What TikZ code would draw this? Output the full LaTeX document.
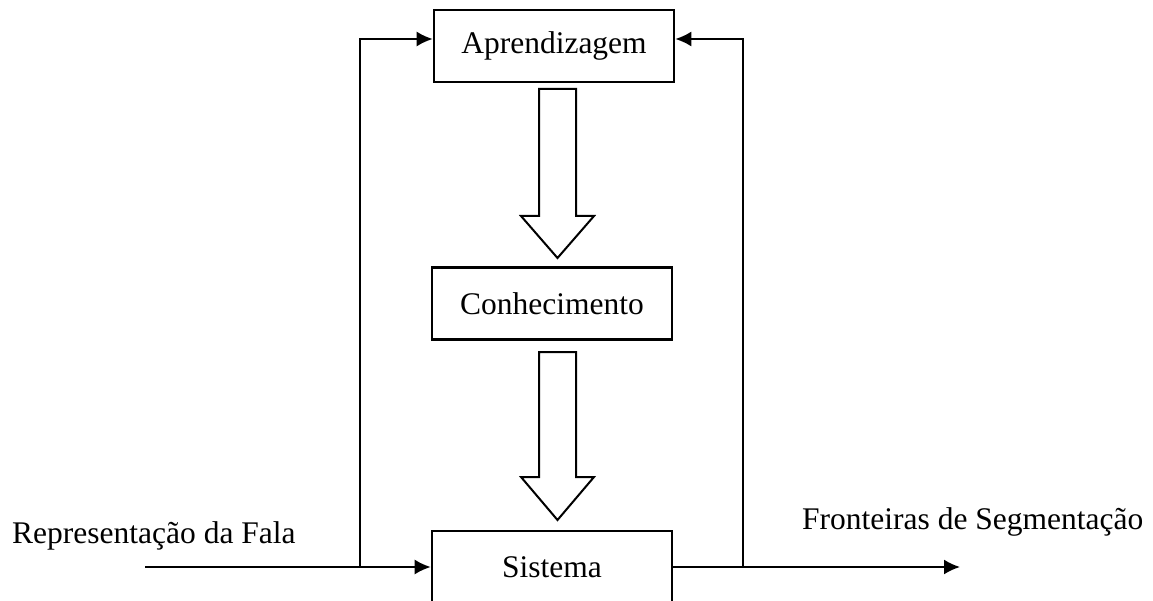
\documentclass[tikz,border=0pt]{standalone}
\usepackage{fontspec}
\setmainfont{Liberation Serif}
\usetikzlibrary{arrows.meta}
\tikzset{
  caixa/.style={draw, line width=2.6pt, minimum width=240pt, minimum height=72pt,
    font=\fontsize{31.5}{38}\selectfont},
  rotulo/.style={font=\fontsize{31.5}{38}\selectfont, inner sep=0pt},
  seta/.style={line width=2pt, -{Latex[length=16pt,width=15pt]}},
  setaoca/.style={line width=2pt, line join=miter}
}
\begin{document}
\begin{tikzpicture}[x=1pt, y=-1pt]
  \useasboundingbox (0,0) rectangle (1153,601);
  % Blocos
  \node[caixa] (aprend) at (554,46) {Aprendizagem};
  \node[caixa] (conhec) at (552,303.5) {Conhecimento};
  \node[caixa] (sistema) at (552,567) {Sistema};

  % Entrada e saida
  \node[rotulo, anchor=base west] (entrada) at (12,543) {Representação da Fala};
  \node[rotulo, anchor=base west] (saida) at (802,529) {Fronteiras de Segmentação};
  \coordinate (ini) at (145,567);
  \coordinate (fim) at (960,567);
  \coordinate (ramoE) at (360,567);
  \coordinate (ramoD) at (743,567);

  % Setas
  \draw[seta] (ini) -- (sistema.west);
  \draw[seta] (sistema.east) -- (fim);
  \draw[seta] (ramoE) |- ([yshift=7pt]aprend.west);
  \draw[seta] (ramoD) |- ([yshift=7pt]aprend.east);

  % Setas largas (ocas)
  \foreach \yt/\yb/\yp in {89/216/258, 352/477/520}
    \draw[setaoca] (539,\yt) -- (576,\yt) -- (576,\yb) -- (594,\yb)
      -- (557.5,\yp) -- (521,\yb) -- (539,\yb) -- cycle;
\end{tikzpicture}
\end{document}
